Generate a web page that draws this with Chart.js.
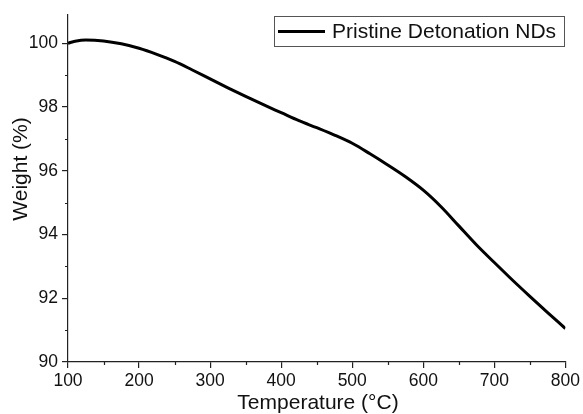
<!DOCTYPE html>
<html>
<head>
<meta charset="utf-8">
<title>TGA - Pristine Detonation NDs</title>
<script src="https://cdn.jsdelivr.net/npm/chart.js@4/dist/chart.umd.min.js"></script>
<style>
    html, body { margin: 0; padding: 0; background: #fff; }
    canvas { display: block; }
</style>
</head>
<body>
<canvas id="tga" width="583" height="414"></canvas>
<script>
// TGA curve, weight loss vs temperature
const temperature = [100, 110, 125, 150, 175, 200, 225, 250, 275, 300, 325, 350, 375, 400, 425, 450, 475, 500, 525, 550, 575, 600, 625, 650, 675, 700, 725, 750, 775, 800];
const weight = [100.0, 100.06, 100.1, 100.07, 99.98, 99.84, 99.65, 99.43, 99.16, 98.88, 98.6, 98.33, 98.07, 97.82, 97.57, 97.35, 97.12, 96.86, 96.53, 96.18, 95.81, 95.39, 94.87, 94.27, 93.67, 93.12, 92.58, 92.06, 91.55, 91.05];
const seriesName = 'Pristine Detonation NDs';

const xTitle = 'Temperature (°C)';
const yTitle = 'Weight (%)';
const xMinorTicks = [150, 250, 350, 450, 550, 650, 750];
const yMinorTicks = [91, 93, 95, 97, 99];

const FONT = "'Liberation Sans', Arial, sans-serif";
const AXIS = '#222';

// small outward minor ticks, the titles and the boxed legend
const extras = {
    id: 'extras',
    afterDraw(chart) {
        const ctx = chart.ctx;
        const xs = chart.scales.x, ys = chart.scales.y;
        const area = chart.chartArea;

        ctx.save();
        ctx.strokeStyle = AXIS;
        ctx.lineWidth = 1.2;
        ctx.beginPath();
        xMinorTicks.forEach(v => {
            const px = Math.round(xs.getPixelForValue(v)) + 0.5;
            ctx.moveTo(px, area.bottom);
            ctx.lineTo(px, area.bottom + 3);
        });
        yMinorTicks.forEach(v => {
            const py = Math.round(ys.getPixelForValue(v)) + 0.5;
            ctx.moveTo(area.left, py);
            ctx.lineTo(area.left - 3, py);
        });
        ctx.stroke();

        // axis titles
        ctx.fillStyle = '#111';
        ctx.font = '21px ' + FONT;
        ctx.textAlign = 'center';
        ctx.textBaseline = 'middle';
        ctx.fillText(xTitle, 318, 403);
        ctx.translate(21, 169);
        ctx.rotate(-Math.PI / 2);
        ctx.fillText(yTitle, 0, 0);
        ctx.restore();

        // legend
        const ds = chart.data.datasets[0];
        ctx.save();
        ctx.fillStyle = '#fff';
        ctx.fillRect(274.5, 16.5, 290, 30);
        ctx.strokeStyle = '#555';
        ctx.lineWidth = 1;
        ctx.strokeRect(274.5, 16.5, 290, 30);
        ctx.strokeStyle = ds.borderColor;
        ctx.lineWidth = 3;
        ctx.beginPath();
        ctx.moveTo(278, 31.5);
        ctx.lineTo(325, 31.5);
        ctx.stroke();
        ctx.fillStyle = '#111';
        ctx.font = '21px ' + FONT;
        ctx.textAlign = 'left';
        ctx.textBaseline = 'middle';
        ctx.fillText(ds.label, 332, 32);
        ctx.restore();
    }
};

new Chart(document.getElementById('tga'), {
    type: 'line',
    data: {
        datasets: [{
            label: seriesName,
            data: temperature.map((t, i) => ({ x: t, y: weight[i] })),
            borderColor: '#000',
            borderWidth: 3,
            pointRadius: 0,
            fill: false,
            cubicInterpolationMode: 'monotone'
        }]
    },
    options: {
        responsive: false,
        devicePixelRatio: 1,
        animation: false,
        layout: { padding: { top: 13, right: 17, left: 0, bottom: 0 } },
        plugins: {
            legend: { display: false },
            tooltip: { enabled: false }
        },
        scales: {
            x: {
                type: 'linear',
                min: 100,
                max: 800,
                afterFit(scale) { scale.height = 52; },
                border: { display: true, color: AXIS, width: 1.2 },
                grid: { drawOnChartArea: false, drawTicks: true, tickLength: 6, color: AXIS, lineWidth: 1.2 },
                ticks: {
                    stepSize: 100,
                    padding: 3,
                    color: '#111',
                    font: { family: FONT, size: 17.5 }
                }
            },
            y: {
                type: 'linear',
                min: 90,
                max: 100.9,
                afterFit(scale) { scale.width = 68; },
                border: { display: true, color: AXIS, width: 1.2 },
                grid: { drawOnChartArea: false, drawTicks: true, tickLength: 6, color: AXIS, lineWidth: 1.2 },
                ticks: {
                    stepSize: 2,
                    includeBounds: false,
                    padding: 4,
                    color: '#111',
                    font: { family: FONT, size: 17.5 }
                }
            }
        }
    },
    plugins: [extras]
});
</script>
</body>
</html>
